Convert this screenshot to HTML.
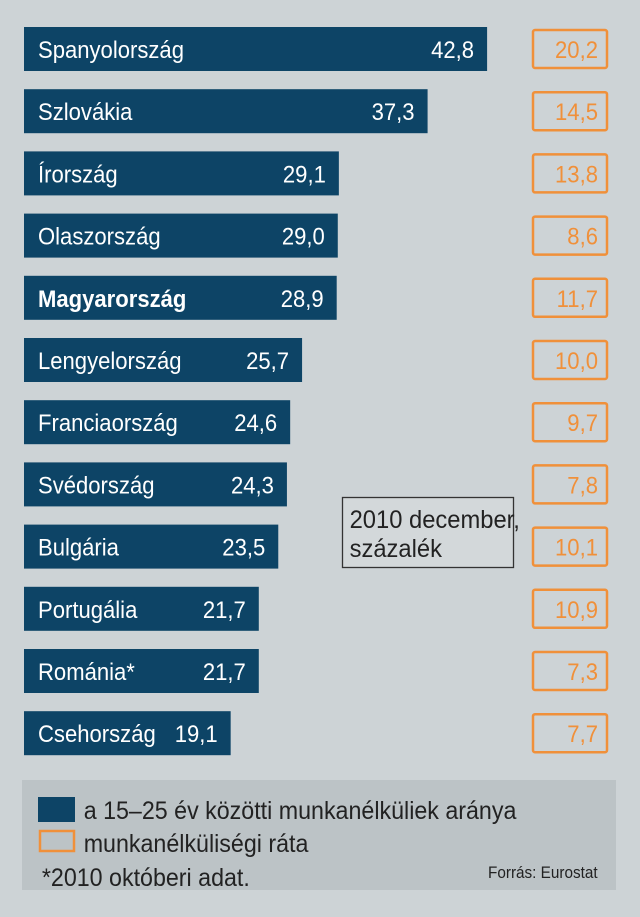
<!DOCTYPE html>
<html><head><meta charset="utf-8"><style>
body{margin:0;background:#cdd3d6;}
svg{display:block;font-family:"Liberation Sans",sans-serif;}
</style></head><body>
<svg id="chart" width="640" height="917" viewBox="0 0 640 917">
<rect x="0" y="0" width="640" height="917" fill="#cdd3d6"/>
<g id="bars"></g>
<g>
<rect x="342.5" y="497.5" width="171" height="70" fill="#d3d8da" stroke="#333" stroke-width="1.3"/>
<text transform="scale(0.95,1)" x="368" y="528" font-size="25" fill="#222">2010 december,</text>
<text transform="scale(0.95,1)" x="368" y="557" font-size="25" fill="#222">százalék</text>
</g>
<g>
<rect x="22" y="780" width="594" height="110" fill="#bcc3c6"/>
<rect x="38" y="797" width="37" height="25" fill="#0d4466"/>
<text transform="scale(0.93,1)" x="90" y="819" font-size="25" fill="#222">a 15–25 év közötti munkanélküliek aránya</text>
<rect x="40" y="831" width="34" height="20" fill="none" stroke="#f0903a" stroke-width="2.5"/>
<text transform="scale(0.93,1)" x="90" y="852" font-size="25" fill="#222">munkanélküliségi ráta</text>
<text transform="scale(0.93,1)" x="45" y="886" font-size="25" fill="#222">*2010 októberi adat.</text>
<text transform="scale(0.9,1)" x="664" y="878" font-size="17" fill="#222" text-anchor="end">Forrás: Eurostat</text>
</g>
</svg>
<script>
const countries=["Spanyolország","Szlovákia","Írország","Olaszország","Magyarország","Lengyelország","Franciaország","Svédország","Bulgária","Portugália","Románia*","Csehország"];
const youthRates=[42.8,37.3,29.1,29.0,28.9,25.7,24.6,24.3,23.5,21.7,21.7,19.1];
const unemploymentRates=[20.2,14.5,13.8,8.6,11.7,10.0,9.7,7.8,10.1,10.9,7.3,7.7];
const NS="http://www.w3.org/2000/svg";
const x0=24, pxPer=10.82, y0=27, step=62.2, bh=44, sx=0.92;
const xScale=v=>x0+v*pxPer;
const yScale=i=>y0+i*step;
const fmt=v=>v.toFixed(1).replace('.',',');
const g=document.getElementById('bars');
function mk(tag,attrs){const e=document.createElementNS(NS,tag);for(const k in attrs)e.setAttribute(k,attrs[k]);return e;}
countries.forEach((c,i)=>{
  const y=yScale(i), xe=xScale(youthRates[i]);
  const r=mk('rect',{x:x0,y:y,width:xe-x0,height:bh,fill:'#0d4466'});
  
  
  g.appendChild(r);
  const t=mk('text',{transform:'scale('+sx+',1)',x:38/sx,y:y+31,'font-size':24,fill:'#fff','font-weight':c==='Magyarország'?'bold':'normal'});
  t.textContent=c;
  
  
  g.appendChild(t);
  const v=mk('text',{transform:'scale('+sx+',1)',x:(xe-13)/sx,y:y+31,'font-size':24,fill:'#fff','text-anchor':'end'});
  v.textContent=fmt(youthRates[i]);
  
  
  g.appendChild(v);
  const b=mk('rect',{x:533,y:y+3,width:74,height:38,fill:'none',stroke:'#f0903a','stroke-width':2.5,rx:2});
  
  
  g.appendChild(b);
  const bt=mk('text',{transform:'scale('+sx+',1)',x:598/sx,y:y+31,'font-size':24,fill:'#f0903a','text-anchor':'end'});
  bt.textContent=fmt(unemploymentRates[i]);
  
  
  g.appendChild(bt);
});
</script>
</body></html>
